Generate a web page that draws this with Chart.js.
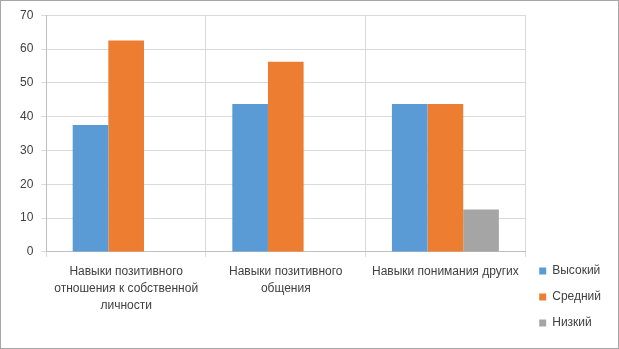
<!DOCTYPE html>
<html><head><meta charset="utf-8">
<script src="https://cdn.jsdelivr.net/npm/chart.js@4/dist/chart.umd.min.js"></script>
<style>html,body{margin:0;padding:0;background:#fff}#w{width:619px;height:349px;position:relative}</style>
</head><body><div id="w"><canvas id="c" width="619" height="349"></canvas></div>
<script>
const categories = [["Навыки позитивного","отношения к собственной","личности"],["Навыки позитивного","общения"],["Навыки понимания других"]];
const seriesNames = ["Высокий","Средний","Низкий"];
const high = [37.5, 43.75, 43.75];
const mid = [62.5, 56.25, 43.75];
const low = [0, 0, 12.5];
const yTicks = [0,10,20,30,40,50,60,70];
const colors = ["#5b9bd5","#ed7d31","#a5a5a5"];

const border = {id:'border', afterDraw(ch){const c=ch.ctx;c.save();c.strokeStyle='#a6a6a6';c.lineWidth=1;c.strokeRect(0.5,0.5,ch.width-1,ch.height-1);c.restore();}};

new Chart(document.getElementById('c'), {
  type:'bar',
  data:{labels:categories, datasets:[high,mid,low].map((d,i)=>({label:seriesNames[i],data:d,backgroundColor:colors[i],borderWidth:0,barPercentage:1,categoryPercentage:0.67}))},
  options:{
    responsive:false, animation:false,
    layout:{padding:{left:12,top:7,right:8,bottom:6}},
    plugins:{
      tooltip:{enabled:false},
      legend:{position:'right',align:'end',
        labels:{boxWidth:7,boxHeight:7,padding:14,color:'#404040',font:{family:'Liberation Sans',size:12}}}
    },
    scales:{
      x:{grid:{color:'#d9d9d9',offset:true,tickLength:5,drawTicks:true},border:{color:'#bfbfbf'},
         afterFit(s){s.height+=23;},
         ticks:{color:'#404040',font:{family:'Liberation Sans',size:12,lineHeight:1.42},maxRotation:0,autoSkip:false,padding:6}},
      y:{min:0,max:70,afterBuildTicks(a){a.ticks=yTicks.map(v=>({value:v}));},
         grid:{color:'#d9d9d9',tickLength:5},border:{color:'#bfbfbf'},
         ticks:{color:'#404040',font:{family:'Liberation Sans',size:12},padding:8}}
    }
  },
  plugins:[border]
});
</script></body></html>
